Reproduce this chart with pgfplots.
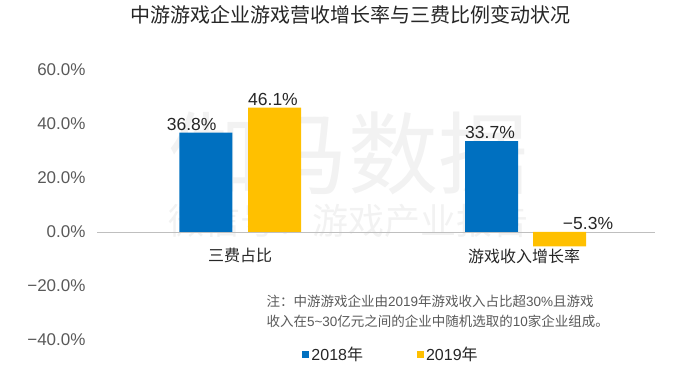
\documentclass[border=0pt]{standalone}
\usepackage{fontspec}
\setmainfont{Liberation Sans}
\newfontfamily\cjk{Noto Sans CJK SC}
\usepackage{pgfplots}
\pgfplotsset{compat=1.18}
\definecolor{cblue}{HTML}{0070C0}
\definecolor{cyellow}{HTML}{FFC000}
\definecolor{tickgray}{HTML}{595959}
\definecolor{textdark}{HTML}{262626}
\definecolor{notegray}{HTML}{595959}
\begin{document}
\begin{tikzpicture}
\path[use as bounding box] (0,0) rectangle (700pt,369pt);
\node[font=\cjk\fontsize{20}{24}\selectfont, text=textdark] at (350pt,354pt) {中游游戏企业游戏营收增长率与三费比例变动状况};
\node[inner sep=0pt, font=\cjk\fontsize{90}{96}\selectfont, text=black!5] at (348pt,216pt) {伽马数据};
\node[inner sep=0pt, font=\cjk\fontsize{36}{40}\selectfont, text=black!5] at (348pt,148pt) {微信号：游戏产业报告};
\begin{axis}[at={(97pt,29pt)}, anchor=south west, scale only axis,
  width=558pt, height=270pt,
  xmin=97, xmax=655, ymin=-40, ymax=60,
  axis x line=middle, axis y line=left,
  x axis line style={-, draw=black!25, line width=0.8pt},
  y axis line style={draw=none},
  xtick={240,524}, xticklabels={三费占比, 游戏收入增长率},
  xticklabel style={font=\cjk\fontsize{16}{18}\selectfont, text=textdark, yshift=-13pt},
  ytick={-40,-20,0,20,40,60},
  yticklabels={−40.0\%, −20.0\%, 0.0\%, 20.0\%, 40.0\%, 60.0\%},
  yticklabel style={font=\fontsize{17}{20}\selectfont, text=tickgray, xshift=-8pt},
  major tick length=0pt, tick style={draw=none},
  hide obscured x ticks=false, hide obscured y ticks=false,
  clip=false,
  legend style={at={(rel axis cs:0.527,-0.052)}, anchor=center, draw=none, fill=none,
    legend columns=2, font=\fontsize{16}{18}\selectfont, text=textdark,
    /tikz/every even column/.append style={column sep=52pt}, inner sep=0pt},
  legend cell align=left,
]
\addplot[ybar, bar width=53, bar shift=0pt, fill=cblue, draw=none,
  legend image code/.code={\fill[cblue] (0pt,-3.5pt) rectangle (7pt,3.5pt);}]
  coordinates {(205.8,36.8) (491.7,33.7)};
\addlegendentry{2018{\cjk 年}}
\addplot[ybar, bar width=53, bar shift=0pt, fill=cyellow, draw=none,
  legend image code/.code={\fill[cyellow] (0pt,-3.5pt) rectangle (7pt,3.5pt);}]
  coordinates {(274.5,46.1) (559.7,-5.3)};
\addlegendentry{2019{\cjk 年}}
\addplot[draw=none, mark=none, forget plot, nodes near coords, point meta=explicit symbolic,
  nodes near coords style={font=\fontsize{17.5}{20}\selectfont, text=textdark, anchor=south, inner sep=2pt}]
  coordinates {(191.7,36.8) [36.8\%] (273,46.1) [46.1\%] (490,33.7) [33.7\%] (588,0) [−5.3\%]};
\end{axis}
\node[anchor=west, align=left, font=\fontsize{13.5}{20}\selectfont, text=notegray] at (263pt,57.5pt)
  {{\cjk 注：中游游戏企业由}2019{\cjk 年游戏收入占比超}30\%{\cjk 且游戏}\\
   {\cjk 收入在}5\textasciitilde30{\cjk 亿元之间的企业中随机选取的}10{\cjk 家企业组成。}};
\end{tikzpicture}
\end{document}
